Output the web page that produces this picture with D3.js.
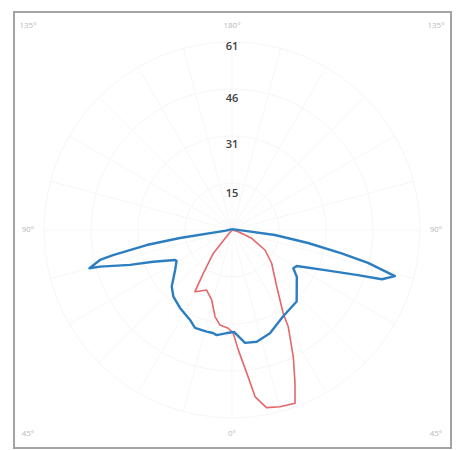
<!DOCTYPE html>
<html>
<head>
<meta charset="utf-8">
<script src="https://cdn.jsdelivr.net/npm/d3@7"></script>
<style>
  html, body { margin: 0; padding: 0; background: #fff; }
  svg { display: block; }
</style>
</head>
<body>
<svg id="chart" width="464" height="450"></svg>
<script>
// Radial tick labels (cd/klm)
const radialTicks = [15, 31, 46, 61];
const radialMax = 61.4;
// Angle labels (gamma, degrees; negative = left half)
const angleLabels = [
  { g: 180, t: "180°" }, { g: -135, t: "135°" }, { g: 135, t: "135°" },
  { g: -90, t: "90°" }, { g: 90, t: "90°" },
  { g: -45, t: "45°" }, { g: 45, t: "45°" }, { g: 0, t: "0°" }
];

// Series 1 (blue, C0-C180 plane): gamma (deg, signed) and intensity
const blueGamma = [-180, -84, -81.3, -80.0, -78.1, -77.2, -75.0, -74.5, -71.1, -68.1, -62.2, -61.0, -54.9, -46.8, -41.3, -33.7, -25.0, -20.7, -14.0, -10.5, -8.3, -2.9, 1.1, 6.6, 12.5, 20.2, 30.5, 42.1, 54.2, 58.0, 60.9, 66.7, 70.3, 71.8, 74.2, 76.4, 78.0, 80.3, 83.4, 86, 180];
const blueValue = [0.3, 2.0, 17.2, 28.3, 39.7, 44.2, 48.2, 44.7, 35.2, 27.8, 21.0, 20.7, 22.7, 27.0, 29.0, 30.6, 32.4, 34.2, 34.2, 34.2, 34.7, 33.7, 33.3, 37.1, 37.4, 35.9, 32.8, 31.5, 26.1, 23.6, 24.2, 33.1, 43.7, 51.5, 55.3, 45.7, 36.6, 25.2, 14.1, 4.3, 0.3];

// Series 2 (red, C90-C270 plane)
const redGamma = [-180, -45, -41.7, -38.7, -33.5, -31.0, -22.9, -16.2, -11.1, -7.2, -2.2, 0.7, 3.0, 5.9, 7.9, 11.0, 15.2, 20.0, 22.4, 25.8, 30.2, 31.6, 38.3, 50.0, 58.8, 67.2, 75.0, 85, 180];
const redValue = [0, 0.3, 1.6, 9.8, 17.0, 23.5, 21.3, 23.8, 28.8, 31.3, 32.1, 33.7, 39.2, 47.0, 55.0, 59.1, 59.8, 60.2, 54.0, 46.0, 36.5, 31.9, 23.6, 16.9, 12.6, 7.0, 2.1, 0.3, 0];

const svg = d3.select("#chart");
const cx = 232, cy = 230;
const R = 188;
const r = d3.scaleLinear().domain([0, radialMax]).range([0, R]);
const toRad = g => (180 - g) * Math.PI / 180; // lineRadial angle (0 = up, clockwise)

// frame
svg.append("rect")
  .attr("x", 14).attr("y", 12).attr("width", 437).attr("height", 436)
  .attr("fill", "#fff").attr("stroke", "#a3a3a3").attr("stroke-width", 2);

const g = svg.append("g").attr("transform", `translate(${cx},${cy})`);

// faint grid
const gridVals = d3.range(1, 5).map(k => radialMax * k / 4);
g.selectAll("circle.grid").data(gridVals).enter().append("circle")
  .attr("r", d => r(d)).attr("fill", "none")
  .attr("stroke", "#f6f6f6").attr("stroke-width", 1);
const spokes = d3.range(-180, 180, 15);
g.selectAll("line.spoke").data(spokes).enter().append("line")
  .attr("x1", 0).attr("y1", 0)
  .attr("x2", d => r(radialMax) * Math.sin(toRad(d)))
  .attr("y2", d => -r(radialMax) * Math.cos(toRad(d)))
  .attr("stroke", "#f7f7f7").attr("stroke-width", 1);

// angle labels on a square around the centre
const half = 204;
svg.selectAll("text.ang").data(angleLabels).enter().append("text")
  .attr("x", d => {
    const a = d.g * Math.PI / 180, s = Math.sin(a), c = Math.cos(a);
    return cx + s / Math.max(Math.abs(s), Math.abs(c)) * half;
  })
  .attr("y", d => {
    const a = d.g * Math.PI / 180, s = Math.sin(a), c = Math.cos(a);
    return cy + c / Math.max(Math.abs(s), Math.abs(c)) * half;
  })
  .attr("text-anchor", "middle").attr("dominant-baseline", "middle")
  .attr("font-family", "Open Sans, DejaVu Sans, sans-serif")
  .attr("font-size", 8).attr("fill", "#b8b8b8")
  .text(d => d.t);

// radial labels
const lastTick = radialTicks[radialTicks.length - 1];
g.selectAll("text.rad").data(radialTicks).enter().append("text")
  .attr("x", 0)
  .attr("y", d => -r(d) + (d === lastTick ? 4 : 10))
  .attr("text-anchor", "middle").attr("dominant-baseline", "middle")
  .attr("font-family", "Open Sans, DejaVu Sans, sans-serif")
  .attr("font-size", 11).attr("font-weight", 600).attr("fill", "#404040")
  .text(d => d);

const line = d3.lineRadial()
  .angle(d => toRad(d[0]))
  .radius(d => r(d[1]))
  .curve(d3.curveLinear);

const redData = redGamma.map((a, i) => [a, redValue[i]]);
const blueData = blueGamma.map((a, i) => [a, blueValue[i]]);

g.append("path").datum(redData).attr("d", line)
  .attr("fill", "none").attr("stroke", "#e4676b").attr("stroke-width", 1.6)
  .attr("stroke-linejoin", "round");
g.append("path").datum(blueData).attr("d", line)
  .attr("fill", "none").attr("stroke", "#2d7ec0").attr("stroke-width", 2.4)
  .attr("stroke-linejoin", "round");
</script>
</body>
</html>
